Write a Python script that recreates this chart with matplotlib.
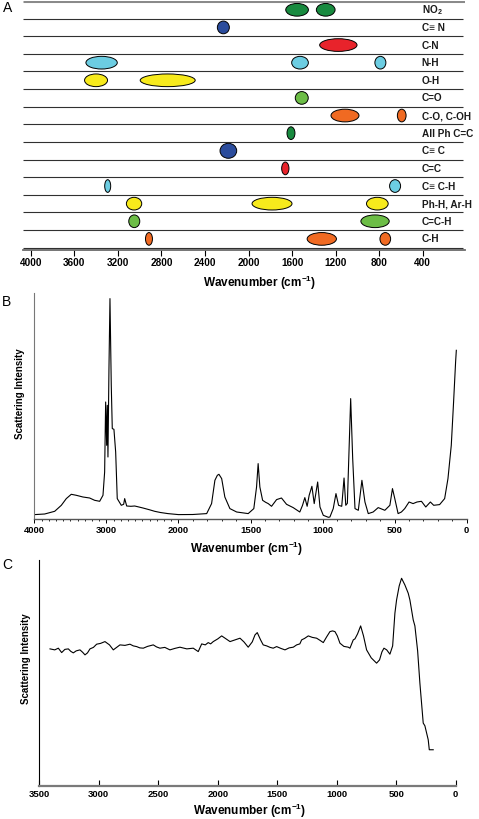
import numpy as np
import matplotlib
matplotlib.use("Agg")
import matplotlib.pyplot as plt
from matplotlib.patches import Ellipse

plt.rcParams['font.family'] = ['Liberation Sans', 'DejaVu Sans']
plt.rcParams['font.weight'] = 'bold'
plt.rcParams['mathtext.fontset'] = 'custom'
plt.rcParams['mathtext.rm'] = 'Liberation Sans:bold'
plt.rcParams['mathtext.bf'] = 'Liberation Sans:bold'
plt.rcParams['mathtext.it'] = 'Liberation Sans:bold'

# ---------------- Panel A data ----------------
group_labels = ["NO$_2$", "C\u2261 N", "C-N", "N-H", "O-H", "C=O", "C-O, C-OH",
                "All Ph C=C", "C\u2261 C", "C=C", "C\u2261 C-H", "Ph-H, Ar-H",
                "C=C-H", "C-H"]
band_row = [0, 0, 1, 2, 3, 3, 3, 4, 4, 5, 6, 6, 7, 8, 9, 10, 10,
            11, 11, 11, 12, 12, 13, 13, 13]
band_center = [1554, 1291, 2231, 1175, 3349, 1527, 789, 3400, 2742, 1511, 1114, 593,
               1610, 2185, 1662, 3293, 654, 3051, 1784, 817, 3049, 838, 2914, 1327, 744]
band_width = [208, 172, 110, 343, 288, 153, 101, 211, 505, 119, 257, 80,
              73, 153, 67, 55, 101, 141, 367, 199, 101, 260, 64, 269, 98]
band_height = [0.72, 0.72, 0.72, 0.72, 0.72, 0.72, 0.72, 0.72, 0.72, 0.72, 0.72, 0.72,
               0.72, 0.85, 0.72, 0.72, 0.72, 0.72, 0.72, 0.72, 0.72, 0.72, 0.72, 0.72, 0.72]
band_color = ["#188a3f", "#188a3f", "#2b4c9c", "#e8232b", "#6ccde2", "#6ccde2", "#6ccde2",
              "#f7ea1c", "#f7ea1c", "#6cbd46", "#f06a22", "#f06a22", "#188a3f", "#2b4c9c",
              "#e8232b", "#6ccde2", "#6ccde2", "#f7ea1c", "#f7ea1c", "#f7ea1c",
              "#6cbd46", "#6cbd46", "#f06a22", "#f06a22", "#f06a22"]
a_ticks = [4000, 3600, 3200, 2800, 2400, 2000, 1600, 1200, 800, 400]

# ---------------- Panel B data ----------------
b_wn = [3994, 3856, 3717, 3625, 3556, 3487, 3417, 3325, 3232, 3163, 3093, 3047, 3024,
        3010, 2996, 2987, 2978, 2964, 2950, 2932, 2918, 2895, 2871, 2849, 2793, 2760,
        2746, 2718, 2660, 2607, 2560, 2492, 2400, 2330, 2250, 2146, 2000, 1900, 1804,
        1770, 1747, 1730, 1719, 1700, 1678, 1643, 1596, 1516, 1477, 1458, 1447, 1435,
        1416, 1395, 1377, 1354, 1319, 1285, 1250, 1204, 1158, 1139, 1123, 1107, 1093,
        1074, 1058, 1034, 1018, 995, 960, 949, 926, 907, 889, 867, 851, 839, 828, 805,
        791, 775, 752, 727, 706, 683, 649, 614, 568, 533, 515, 499, 476, 453, 430,
        400, 372, 345, 314, 284, 252, 229, 188, 153, 130, 107, 91, 77, 72]
b_int = [4.7, 5.3, 8.0, 14.0, 20.7, 25.0, 24.0, 22.3, 21.3, 19.0, 18.0, 24.0, 47.3,
         117.3, 74.0, 114.0, 62.3, 150.7, 220.7, 134.0, 90.7, 90.0, 67.3, 20.7, 14.0, 15.0,
         20.7, 13.3, 13.0, 13.3, 12.5, 11.3, 9.5, 8.0, 6.8, 5.7, 4.7, 4.8, 5.7,
         15.7, 39.0, 44.0, 45.0, 40.7, 22.3, 10.7, 7.3, 5.7, 10.7, 32.3, 55.7, 32.3,
         19.0, 17.0, 15.7, 13.0, 19.7, 21.3, 15.0, 11.7, 7.3, 14.0, 21.7, 13.0, 24.0,
         33.0, 15.7, 37.3, 12.3, 4.0, 2.0, 2.3, 10.7, 25.7, 14.0, 13.0, 41.3, 14.0, 16.0, 120.7,
         60.7, 10.7, 9.0, 39.0, 17.3, 5.7, 7.3, 11.7, 9.0, 14.0, 30.7, 20.7, 5.7, 7.3, 10.7,
         17.3, 15.7, 17.3, 18.0, 12.3, 17.3, 14.0, 14.7, 20.7, 40.7, 74.0, 117.3, 157.3, 169.0]
b_major = [4000, 3000, 2000, 1500, 1000, 500, 0]
b_minor = list(range(0, 4001, 100))

# ---------------- Panel C data ----------------
c_wn = [3410, 3370, 3340, 3312, 3285, 3256, 3235, 3214, 3190, 3158, 3135, 3116, 3095,
        3074, 3045, 3018, 2985, 2948, 2910, 2878, 2850, 2822, 2780, 2738, 2710, 2682,
        2655, 2626, 2590, 2542, 2515, 2486, 2445, 2402, 2360, 2318, 2260, 2206, 2185,
        2164, 2135, 2105, 2080, 2060, 2038, 2000, 1967, 1930, 1897, 1855, 1813, 1780,
        1744, 1710, 1687, 1668, 1640, 1618, 1589, 1560, 1534, 1505, 1470, 1435, 1400,
        1365, 1337, 1310, 1295, 1270, 1239, 1205, 1169, 1140, 1113, 1085, 1057, 1035,
        1015, 995, 973, 940, 903, 889, 861, 847, 825, 799, 775, 749, 710, 665, 640,
        620, 603, 580, 553, 530, 511, 497, 475, 455, 427, 399, 385, 357, 343, 320,
        301, 273, 259, 231, 222, 205, 189]
c_int = [137.0, 136.0, 137.7, 133.3, 136.5, 137.0, 134.5, 133.0, 135.0, 136.0, 133.5,
         131.0, 133.0, 137.0, 138.5, 141.7, 142.5, 144.3, 141.0, 136.0, 138.5, 141.0,
         140.5, 141.7, 140.0, 139.3, 138.0, 137.7, 139.5, 141.0, 139.0, 137.7, 138.5,
         136.0, 137.5, 138.7, 137.0, 137.7, 136.0, 134.3, 142.0, 141.0, 143.3, 142.0,
         144.3, 147.0, 150.0, 147.0, 144.3, 146.0, 147.7, 144.0, 138.7, 144.0, 151.0,
         153.3, 146.0, 141.0, 140.0, 138.5, 137.7, 139.3, 137.5, 136.0, 138.0, 138.7,
         141.0, 142.0, 146.0, 147.5, 150.0, 148.5, 147.7, 145.5, 143.3, 149.0, 154.3,
         155.0, 154.3, 150.0, 142.7, 139.5, 138.7, 137.7, 146.0, 147.0, 152.0, 160.0,
         150.0, 136.0, 128.0, 122.7, 126.0, 134.0, 137.7, 136.0, 131.7, 140.0, 172.7,
         186.0, 200.0, 207.7, 201.0, 192.7, 186.0, 166.0, 160.0, 135.0, 102.7, 62.7,
         60.0, 46.0, 36.0, 36.0, 36.0]
c_ticks = [3500, 3000, 2500, 2000, 1500, 1000, 500, 0]

W, H = 479, 819
fig = plt.figure(figsize=(W / 100, H / 100), dpi=100)


def box(x0, y0, x1, y1):
    return [x0 / W, 1 - y1 / H, (x1 - x0) / W, (y1 - y0) / H]


# ---------------- Panel A ----------------
axA = fig.add_axes(box(22.7, 0.5, 465, 250))
axA.set_xlim(4073.5, 12)
axA.set_ylim(13.63, -0.528)
for r in np.arange(-0.5, 13.6, 1.0):
    if r == -0.5:
        axA.hlines(r, 4073.5, 12, color="#8a8a8a", lw=2.2, zorder=1)
    else:
        axA.hlines(r, 4073.5, 30, color="#303030", lw=0.8, zorder=1)
for rr, cc, ww, hh, col in zip(band_row, band_center, band_width, band_height, band_color):
    axA.add_patch(Ellipse((cc, rr), ww, hh, facecolor=col, edgecolor="black",
                          lw=0.7, zorder=3))
for i, lab in enumerate(group_labels):
    axA.text(409, i + 0.03, lab, ha="left", va="center", fontsize=7.2, fontweight="bold",
             color="#1a1a1a")
for s in ["top", "right", "left"]:
    axA.spines[s].set_visible(False)
axA.spines["bottom"].set_color("#6a6a6a")
axA.spines["bottom"].set_linewidth(1.3)
axA.set_yticks([])
axA.set_xticks(a_ticks)
axA.set_xticklabels([str(t) for t in a_ticks], fontsize=7.2, fontweight="bold")
axA.tick_params(axis="x", direction="out", length=4, width=0.8, pad=1.5)
fig.text(260 / W, 1 - 283.3 / H, "Wavenumber (cm$^{-1}$)", ha="center", va="center",
         fontsize=8.5, fontweight="bold")
fig.text(3 / W, 1 - 8 / H, "A", ha="left", va="center", fontsize=10, fontweight="normal")

# ---------------- Panel B ----------------
def fwd(w):
    w = np.asarray(w, dtype=float)
    return np.where(w > 2000, 2000 + (w - 2000) / 2.0, w)


def inv(u):
    u = np.asarray(u, dtype=float)
    return np.where(u > 2000, 2000 + 2.0 * (u - 2000), u)


axB = fig.add_axes(box(34.3, 292.7, 466.7, 519.3))
axB.set_xscale("function", functions=(fwd, inv))
axB.plot(b_wn, b_int, color="black", lw=0.8)
axB.set_xlim(4000, 0)
axB.set_ylim(0, 226.6)
axB.set_xticks(b_major)
axB.set_xticklabels([str(t) for t in b_major], fontsize=6.8, fontweight="bold")
axB.set_xticks(b_minor, minor=True)
axB.tick_params(axis="x", which="major", direction="out", length=3, width=0.7, pad=2)
axB.tick_params(axis="x", which="minor", direction="out", length=1.6, width=0.6)
axB.set_yticks([])
for s in ["top", "right"]:
    axB.spines[s].set_visible(False)
axB.spines["left"].set_color("#777777")
axB.spines["left"].set_linewidth(0.8)
axB.spines["bottom"].set_color("#555555")
axB.spines["bottom"].set_linewidth(1.0)
fig.text(20 / W, 1 - 394 / H, "Scattering Intensity", rotation=90, ha="center",
         va="center", fontsize=7, fontweight="bold")
fig.text(246.7 / W, 1 - 549.3 / H, "Wavenumber (cm$^{-1}$)", ha="center", va="center",
         fontsize=8.5, fontweight="bold")
fig.text(2 / W, 1 - 302 / H, "B", ha="left", va="center", fontsize=10, fontweight="normal")

# ---------------- Panel C ----------------
axC = fig.add_axes(box(39.3, 560, 455.7, 785.7))
axC.plot(c_wn, c_int, color="black", lw=0.8)
axC.set_xlim(3500, 0)
axC.set_ylim(0, 226)
axC.set_xticks(c_ticks)
axC.set_xticklabels([str(t) for t in c_ticks], fontsize=6.8, fontweight="bold")
axC.tick_params(axis="x", direction="in", length=4, width=0.8, pad=3)
axC.set_yticks([])
for s in ["top", "right"]:
    axC.spines[s].set_visible(False)
axC.spines["left"].set_color("black")
axC.spines["left"].set_linewidth(0.8)
axC.spines["bottom"].set_color("#7a7a7a")
axC.spines["bottom"].set_linewidth(1.6)
fig.text(26 / W, 1 - 659 / H, "Scattering Intensity", rotation=90, ha="center",
         va="center", fontsize=7, fontweight="bold")
fig.text(250 / W, 1 - 815.5 / H, "Wavenumber (cm$^{-1}$)", ha="center", va="baseline",
         fontsize=8.5, fontweight="bold")
fig.text(2 / W, 1 - 565 / H, "C", ha="left", va="center", fontsize=10, fontweight="normal")

fig.savefig("out.png", dpi=100)
